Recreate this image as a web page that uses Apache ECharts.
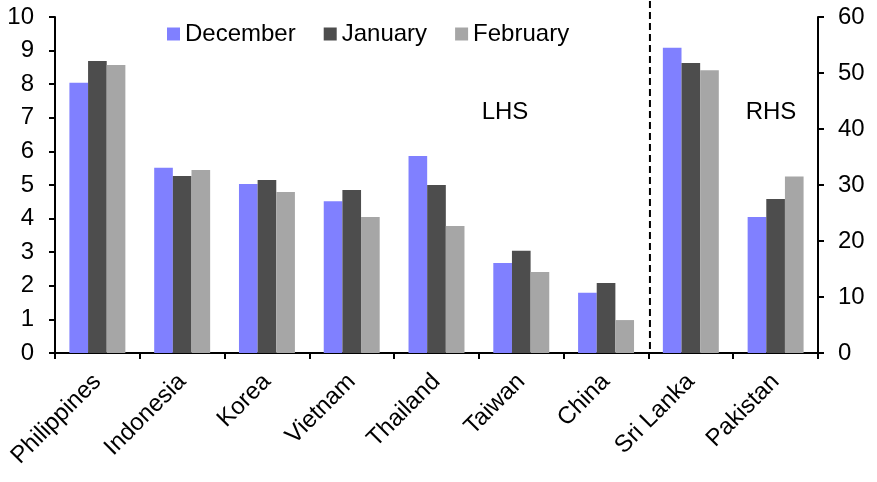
<!DOCTYPE html>
<html>
<head>
<meta charset="utf-8">
<script src="https://cdn.jsdelivr.net/npm/echarts@6/dist/echarts.min.js"></script>
<style>
html,body{margin:0;padding:0;background:#fff;}
#chart{width:877px;height:482px;}
</style>
</head>
<body>
<div id="chart"></div>
<script>
var categoriesLHS = ['Philippines', 'Indonesia', 'Korea', 'Vietnam', 'Thailand', 'Taiwan', 'China'];
var categoriesRHS = ['Sri Lanka', 'Pakistan'];
var decLHS = [8.04, 5.51, 5.03, 4.52, 5.86, 2.68, 1.79];
var janLHS = [8.69, 5.27, 5.15, 4.85, 5.00, 3.04, 2.08];
var febLHS = [8.57, 5.45, 4.79, 4.05, 3.78, 2.41, 0.98];
var decRHS = [54.5, 24.3];
var janRHS = [51.8, 27.5];
var febRHS = [50.5, 31.5];
var seriesNames = ['December', 'January', 'February'];
var leftTicks = {min: 0, max: 10, interval: 1};
var rightTicks = {min: 0, max: 60, interval: 10};

var colors = ['#8080FF', '#4D4D4D', '#A6A6A6'];
var FONT = '"Liberation Sans", Arial, sans-serif';
var FS = 24;
var plotLeft = 55, plotRight = 818, plotTop = 17, plotBottom = 353;
var band = (plotRight - plotLeft) / 9;
var boundary = plotLeft + band * categoriesLHS.length;

var axisLineStyle = {color: '#000', width: 2};

function xAxisCfg(idx, cats) {
  return {
    type: 'category', gridIndex: idx, data: cats,
    axisLine: {show: true, lineStyle: axisLineStyle},
    axisTick: {show: true, length: 6, lineStyle: axisLineStyle, alignWithLabel: false},
    axisLabel: {interval: 0, rotate: 45, fontSize: FS, color: '#000', fontFamily: FONT, margin: 25},
    splitLine: {show: false}
  };
}

function barSeries(name, i, data, idx) {
  return {
    name: name, type: 'bar', xAxisIndex: idx, yAxisIndex: idx, data: data,
    itemStyle: {color: colors[i]}, barGap: '0%', barCategoryGap: '34%',
    emphasis: {disabled: true}
  };
}

var chart = echarts.init(document.getElementById('chart'), null, {renderer: 'canvas'});
var option = {
  backgroundColor: '#fff',
  animation: false,
  textStyle: {fontFamily: FONT},
  legend: {
    data: seriesNames, top: 17, left: 162,
    itemWidth: 13, itemHeight: 13, itemGap: 28,
    icon: 'rect',
    textStyle: {fontSize: FS, color: '#000', fontFamily: FONT}
  },
  grid: [
    {left: plotLeft, top: plotTop, width: boundary - plotLeft, height: plotBottom - plotTop},
    {left: boundary, top: plotTop, width: plotRight - boundary, height: plotBottom - plotTop}
  ],
  xAxis: [xAxisCfg(0, categoriesLHS), xAxisCfg(1, categoriesRHS)],
  yAxis: [
    {
      type: 'value', gridIndex: 0, position: 'left',
      min: leftTicks.min, max: leftTicks.max, interval: leftTicks.interval,
      axisLine: {show: true, lineStyle: axisLineStyle},
      axisTick: {show: true, length: 6, lineStyle: axisLineStyle},
      axisLabel: {fontSize: FS, color: '#000', fontFamily: FONT, margin: 21},
      splitLine: {show: false}
    },
    {
      type: 'value', gridIndex: 1, position: 'right',
      min: rightTicks.min, max: rightTicks.max, interval: rightTicks.interval,
      axisLine: {show: true, lineStyle: axisLineStyle},
      axisTick: {show: true, length: 6, lineStyle: axisLineStyle},
      axisLabel: {fontSize: FS, color: '#000', fontFamily: FONT, margin: 20},
      splitLine: {show: false}
    }
  ],
  series: [
    barSeries(seriesNames[0], 0, decLHS, 0),
    barSeries(seriesNames[1], 1, janLHS, 0),
    barSeries(seriesNames[2], 2, febLHS, 0),
    barSeries(seriesNames[0], 0, decRHS, 1),
    barSeries(seriesNames[1], 1, janRHS, 1),
    barSeries(seriesNames[2], 2, febRHS, 1)
  ]
};
chart.setOption(option);

var xChina = chart.convertToPixel({xAxisIndex: 0}, categoriesLHS[categoriesLHS.length - 1]);
var xSri = chart.convertToPixel({xAxisIndex: 1}, categoriesRHS[0]);
var yZero = chart.convertToPixel({yAxisIndex: 0}, 0);
var xDash = (xChina + xSri) / 2 + 1.5;

chart.setOption({
  graphic: [
    {
      type: 'line', silent: true,
      shape: {x1: xDash, y1: 1, x2: xDash, y2: yZero},
      style: {stroke: '#000', lineWidth: 2, lineDash: [7, 4]}
    },
    {
      type: 'text', silent: true, x: 505, y: 112,
      style: {text: 'LHS', fill: '#000', font: FS + 'px ' + FONT, align: 'center', verticalAlign: 'middle'}
    },
    {
      type: 'text', silent: true, x: 771, y: 112,
      style: {text: 'RHS', fill: '#000', font: FS + 'px ' + FONT, align: 'center', verticalAlign: 'middle'}
    }
  ]
});
</script>
</body>
</html>
